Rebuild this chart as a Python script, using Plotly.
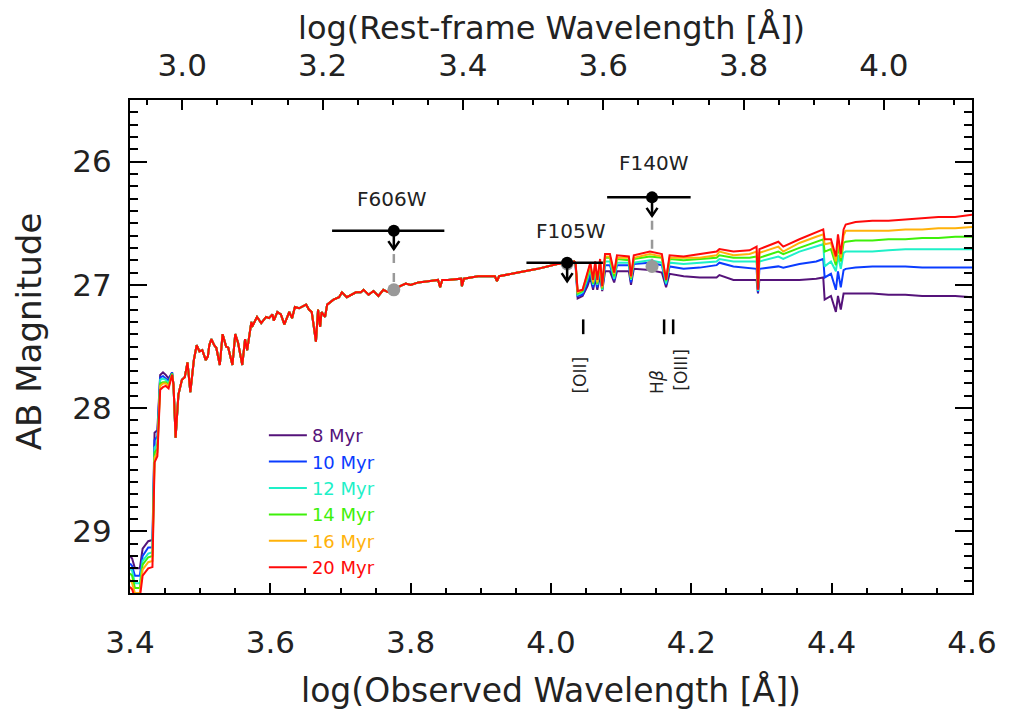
import plotly.graph_objects as go

# ---------------- data ----------------
AGES = ["8 Myr", "10 Myr", "12 Myr", "14 Myr", "16 Myr", "20 Myr"]
COLORS = ["#55137a", "#0a3cff", "#1ef0c8", "#3ef00a", "#ffb20a", "#ff0a0a"]

LOG1PZ = 0.4745  # log10(1+z): offset between observed and rest-frame axes

# UV part (series differ)
X_UV = [3.400, 3.403, 3.407, 3.414, 3.418, 3.426, 3.432, 3.435, 3.439, 3.443,
        3.447, 3.451, 3.455, 3.460]
UV_8 = [29.20, 29.22, 29.30, 29.30, 29.14, 29.08, 29.07, 28.20, 28.18, 27.73, 27.71, 27.73, 27.76, 27.71]
UV_10 = [29.26, 29.28, 29.36, 29.36, 29.20, 29.13, 29.13, 28.26, 28.23, 27.75, 27.74, 27.76, 27.78, 27.71]
UV_12 = [29.30, 29.32, 29.42, 29.42, 29.24, 29.18, 29.17, 28.32, 28.29, 27.77, 27.76, 27.77, 27.80, 27.72]
UV_14 = [29.34, 29.36, 29.46, 29.46, 29.27, 29.21, 29.20, 28.36, 28.33, 27.80, 27.79, 27.79, 27.81, 27.72]
UV_16 = [29.39, 29.42, 29.50, 29.50, 29.31, 29.25, 29.24, 28.40, 28.36, 27.82, 27.80, 27.80, 27.82, 27.73]
UV_20 = [29.45, 29.47, 29.54, 29.54, 29.36, 29.30, 29.29, 28.44, 28.39, 27.85, 27.83, 27.82, 27.84, 27.73]

# middle part (all ages overlap)
X_MID = [3.462, 3.465, 3.469, 3.474, 3.478, 3.482, 3.486, 3.491, 3.495, 3.499,
         3.503, 3.508, 3.511, 3.513, 3.516, 3.520, 3.523, 3.528, 3.532, 3.537,
         3.540, 3.546, 3.550, 3.554, 3.560, 3.564, 3.567, 3.573, 3.574, 3.581,
         3.587, 3.594, 3.598, 3.603, 3.605, 3.610, 3.615, 3.620, 3.627, 3.631,
         3.635, 3.641, 3.651, 3.655, 3.659, 3.665, 3.668, 3.671, 3.673, 3.678,
         3.681, 3.690, 3.698, 3.702, 3.709, 3.716, 3.722, 3.729, 3.733, 3.740,
         3.747, 3.754, 3.761, 3.768, 3.776, 3.785, 3.793, 3.800, 3.811, 3.825,
         3.839, 3.842, 3.845, 3.853, 3.872, 3.873, 3.876, 3.896, 3.920, 3.923,
         3.926, 3.953, 3.981, 4.009, 4.028, 4.033]
MID_MAG = [27.81, 28.24, 27.89, 27.77, 27.75, 27.63, 27.87, 27.61, 27.49, 27.54,
           27.53, 27.61, 27.58, 27.49, 27.44, 27.49, 27.51, 27.65, 27.40, 27.50,
           27.51, 27.65, 27.40, 27.47, 27.65, 27.44, 27.53, 27.30, 27.34, 27.26,
           27.31, 27.26, 27.27, 27.24, 27.29, 27.22, 27.24, 27.32, 27.22, 27.27,
           27.18, 27.19, 27.16, 27.20, 27.22, 27.46, 27.20, 27.34, 27.22, 27.26,
           27.16, 27.12, 27.10, 27.06, 27.10, 27.08, 27.06, 27.06, 27.04, 27.08,
           27.05, 27.09, 27.04, 27.06, 27.04, 27.01, 26.99, 27.00, 26.98, 26.97,
           26.96, 27.02, 26.96, 26.96, 26.95, 27.01, 26.95, 26.93, 26.93, 26.97,
           26.93, 26.90, 26.87, 26.83, 26.82, 26.81]

# red part (series differ)
X_RED = [4.035, 4.038, 4.045, 4.052, 4.056, 4.060, 4.063, 4.066, 4.070, 4.073,
         4.077, 4.084, 4.090, 4.094, 4.111, 4.114, 4.118, 4.141, 4.158, 4.164,
         4.169, 4.189, 4.212, 4.236, 4.240, 4.260, 4.283, 4.293, 4.295, 4.297,
         4.324, 4.331, 4.354, 4.378, 4.388, 4.390, 4.399, 4.406, 4.409, 4.413,
         4.417, 4.420, 4.434, 4.458, 4.481, 4.505, 4.529, 4.552, 4.576, 4.600]
RED_20 = [26.82, 27.05, 27.04, 26.90, 26.82, 26.96, 26.81, 26.96, 26.79, 27.01,
          26.75, 26.75, 26.90, 26.76, 26.77, 26.93, 26.76, 26.73, 26.75, 26.96,
          26.76, 26.77, 26.75, 26.73, 26.71, 26.73, 26.72, 26.69, 27.04, 26.71,
          26.65, 26.69, 26.63, 26.57, 26.55, 26.63, 26.63, 26.77, 26.59, 26.75,
          26.55, 26.51, 26.49, 26.48, 26.48, 26.47, 26.46, 26.45, 26.45, 26.43]
RED_16 = [26.82, 27.06, 27.04, 26.91, 26.83, 26.98, 26.82, 26.98, 26.81, 27.02,
          26.77, 26.77, 26.91, 26.78, 26.78, 26.94, 26.78, 26.75, 26.77, 26.96,
          26.78, 26.78, 26.78, 26.76, 26.73, 26.76, 26.75, 26.73, 27.04, 26.74,
          26.69, 26.73, 26.66, 26.61, 26.59, 26.67, 26.66, 26.81, 26.63, 26.78,
          26.60, 26.56, 26.56, 26.56, 26.56, 26.55, 26.55, 26.54, 26.54, 26.53]
RED_14 = [26.82, 27.07, 27.05, 26.93, 26.85, 26.99, 26.84, 26.99, 26.82, 27.03,
          26.78, 26.78, 26.93, 26.79, 26.80, 26.95, 26.79, 26.77, 26.78, 26.97,
          26.79, 26.80, 26.79, 26.78, 26.76, 26.78, 26.78, 26.77, 27.04, 26.78,
          26.73, 26.75, 26.70, 26.65, 26.63, 26.73, 26.71, 26.84, 26.68, 26.81,
          26.66, 26.65, 26.64, 26.64, 26.63, 26.63, 26.62, 26.62, 26.61, 26.61]
RED_12 = [26.82, 27.08, 27.06, 26.95, 26.87, 27.00, 26.87, 27.00, 26.85, 27.04,
          26.81, 26.81, 26.95, 26.82, 26.82, 26.96, 26.82, 26.80, 26.82, 26.99,
          26.82, 26.83, 26.82, 26.81, 26.79, 26.81, 26.81, 26.81, 27.05, 26.81,
          26.77, 26.79, 26.73, 26.69, 26.67, 26.85, 26.81, 26.89, 26.76, 26.87,
          26.74, 26.73, 26.73, 26.73, 26.72, 26.71, 26.71, 26.71, 26.71, 26.71]
RED_10 = [26.83, 27.09, 27.08, 26.98, 26.91, 27.02, 26.91, 27.02, 26.89, 27.04,
          26.84, 26.84, 26.96, 26.84, 26.84, 26.98, 26.83, 26.82, 26.84, 27.00,
          26.85, 26.87, 26.86, 26.84, 26.82, 26.85, 26.86, 26.87, 27.06, 26.87,
          26.85, 26.86, 26.83, 26.81, 26.79, 26.94, 26.91, 27.04, 26.89, 27.02,
          26.88, 26.87, 26.86, 26.85, 26.85, 26.85, 26.86, 26.86, 26.86, 26.86]
RED_8 = [26.84, 27.11, 27.09, 27.01, 26.94, 27.04, 26.94, 27.04, 26.92, 27.05,
         26.89, 26.89, 26.98, 26.89, 26.89, 27.00, 26.87, 26.88, 26.90, 27.02,
         26.91, 26.93, 26.94, 26.94, 26.92, 26.96, 26.96, 26.96, 27.07, 26.96,
         26.96, 26.96, 26.96, 26.95, 26.94, 27.12, 27.09, 27.22, 27.09, 27.20,
         27.07, 27.07, 27.07, 27.07, 27.08, 27.08, 27.09, 27.09, 27.09, 27.10]

UV_MAGS = [UV_8, UV_10, UV_12, UV_14, UV_16, UV_20]
RED_MAGS = [RED_8, RED_10, RED_12, RED_14, RED_16, RED_20]

# photometry (upper limits)
FILTERS = ["F606W", "F105W", "F140W"]
FILT_X = [3.776, 4.023, 4.144]
FILT_LO = [3.688, 3.965, 4.080]
FILT_HI = [3.848, 4.074, 4.199]
FILT_MAG = [26.56, 26.82, 26.29]
MODEL_MAG = [27.04, 26.83, 26.85]
SHOW_LINK = [True, False, True]
LABEL_X = [3.773, 4.028, 4.147]
LABEL_MAG = [26.30, 26.56, 26.01]

# emission lines (rest-frame log wavelength) and labels
LINE_NAMES = ["[OII]", "H<i>β</i>", "[OIII]"]
LINE_LOGREST = [3.5714, 3.6867, 3.6996]
LINE_LABEL_X = [4.041, 4.152, 4.185]
LINE_LABEL_MAG = [27.73, 27.79, 27.69]
LINE_MARK_MAG = [27.28, 27.40]

X_TICKS = [3.4, 3.6, 3.8, 4.0, 4.2, 4.4, 4.6]
REST_TICKS = [3.0, 3.2, 3.4, 3.6, 3.8, 4.0]
Y_TICKS = [26, 27, 28, 29]

# ---------------- figure ----------------
FONT = "DejaVu Sans"
TXT = "#222222"
fig = go.Figure()

for age, col, uv, red in zip(AGES, COLORS, UV_MAGS, RED_MAGS):
    fig.add_trace(go.Scatter(
        x=X_UV + X_MID + X_RED, y=uv + MID_MAG + red, mode="lines",
        line=dict(color=col, width=2),
        name=f"<span style='color:{col}'>{age}</span>",
        hoverinfo="skip"))

# grey dashed links and model points
lx, ly = [], []
ARROW_LEN, HEAD_W, HEAD_H = 0.15, 0.0078, 0.065
for xf, m, mm, show in zip(FILT_X, FILT_MAG, MODEL_MAG, SHOW_LINK):
    if show:
        lx += [xf, xf, None]
        ly += [m + ARROW_LEN + 0.04, mm, None]
fig.add_trace(go.Scatter(x=lx, y=ly, mode="lines", showlegend=False,
                         line=dict(color="#999999", width=2.5, dash="9px,10px")))
fig.add_trace(go.Scatter(x=FILT_X, y=MODEL_MAG, mode="markers", showlegend=False,
                         marker=dict(color="#999999", size=13)))

# filter bars
bx, by = [], []
for lo, hi, m in zip(FILT_LO, FILT_HI, FILT_MAG):
    bx += [lo, hi, None]
    by += [m, m, None]
fig.add_trace(go.Scatter(x=bx, y=by, mode="lines", showlegend=False,
                         line=dict(color="black", width=2.5)))

# upper-limit arrows
ax_, ay_ = [], []
for xf, m in zip(FILT_X, FILT_MAG):
    tip = m + ARROW_LEN
    ax_ += [xf, xf, None, xf - HEAD_W, xf, xf + HEAD_W, None]
    ay_ += [m, tip, None, tip - HEAD_H, tip, tip - HEAD_H, None]
fig.add_trace(go.Scatter(x=ax_, y=ay_, mode="lines", showlegend=False,
                         line=dict(color="black", width=2.5)))
fig.add_trace(go.Scatter(x=FILT_X, y=FILT_MAG, mode="markers", showlegend=False,
                         marker=dict(color="black", size=12)))

# emission-line tick marks
mx, my = [], []
for lr in LINE_LOGREST:
    xo = lr + LOG1PZ
    mx += [xo, xo, None]
    my += [LINE_MARK_MAG[0], LINE_MARK_MAG[1], None]
fig.add_trace(go.Scatter(x=mx, y=my, mode="lines", showlegend=False,
                         line=dict(color="black", width=2.5)))

# dummy trace for top axis
fig.add_trace(go.Scatter(x=[REST_TICKS[0]], y=[Y_TICKS[0]], xaxis="x2", mode="markers",
                         marker=dict(opacity=0), showlegend=False, hoverinfo="skip"))

annotations = []
for name, xl, yl in zip(FILTERS, LABEL_X, LABEL_MAG):
    annotations.append(dict(x=xl, y=yl, xref="x", yref="y", text=name, showarrow=False,
                            xanchor="center", yanchor="middle",
                            font=dict(size=20, color=TXT, family=FONT)))
for name, xl, yl in zip(LINE_NAMES, LINE_LABEL_X, LINE_LABEL_MAG):
    annotations.append(dict(x=xl, y=yl, xref="x", yref="y", text=name, showarrow=False,
                            xanchor="center", yanchor="middle",
                            textangle=-90, font=dict(size=17, color=TXT, family=FONT)))
# axis titles
annotations.append(dict(x=0.5, y=-0.197, xref="paper", yref="paper", showarrow=False,
                        xanchor="center", yanchor="middle",
                        text="log(Observed Wavelength [Å])",
                        font=dict(size=33, color=TXT, family=FONT)))
annotations.append(dict(x=0.5, y=1.147, xref="paper", yref="paper", showarrow=False,
                        xanchor="center", yanchor="middle",
                        text="log(Rest-frame Wavelength [Å])",
                        font=dict(size=32, color=TXT, family=FONT)))
annotations.append(dict(x=-0.120, y=0.531, xref="paper", yref="paper", showarrow=False,
                        xanchor="center", yanchor="middle",
                        text="AB Magnitude", textangle=-90,
                        font=dict(size=34, color=TXT, family=FONT)))

axis_common = dict(showgrid=False, zeroline=False, showline=True, linewidth=2,
                   linecolor="black", ticks="inside", tickcolor="black", tickwidth=2,
                   ticklabeloverflow="allow",
                   tickfont=dict(size=31, color=TXT, family=FONT))

fig.update_layout(
    width=1001, height=709,
    margin=dict(l=122, r=32, t=92, b=124),
    paper_bgcolor="white", plot_bgcolor="white",
    font=dict(family=FONT, color=TXT),
    xaxis=dict(range=[X_TICKS[0], X_TICKS[-1]], tickmode="array", tickvals=X_TICKS,
               ticktext=[f"{v:.1f}" for v in X_TICKS], ticklen=10,
               minor=dict(tickmode="linear", tick0=3.4, dtick=0.05, ticks="inside", ticklen=5,
                          tickwidth=2, tickcolor="black", showgrid=False),
               ticklabelstandoff=21, **axis_common),
    xaxis2=dict(overlaying="x", side="top", anchor="y",
                range=[X_TICKS[0] - LOG1PZ, X_TICKS[-1] - LOG1PZ],
                tickmode="array", tickvals=REST_TICKS,
                ticktext=[f"{v:.1f}" for v in REST_TICKS], ticklen=10,
                minor=dict(tickmode="linear", tick0=3.0, dtick=0.05, ticks="inside", ticklen=5,
                           tickwidth=2, tickcolor="black", showgrid=False),
                ticklabelstandoff=10, **axis_common),
    yaxis=dict(range=[29.5, 25.5], tickmode="array", tickvals=Y_TICKS,
               ticktext=[str(v) for v in Y_TICKS], ticklen=17, mirror="ticks",
               minor=dict(tickmode="linear", tick0=26, dtick=0.1, ticks="inside", ticklen=8,
                          tickwidth=2, tickcolor="black", showgrid=False),
               ticklabelstandoff=10, **axis_common),
    legend=dict(x=0.159, y=0.357, xanchor="left", yanchor="top",
                bgcolor="rgba(0,0,0,0)", borderwidth=0,
                font=dict(size=18, family=FONT), tracegroupgap=0, itemwidth=38),
    annotations=annotations,
)

fig.write_html("out.html")
